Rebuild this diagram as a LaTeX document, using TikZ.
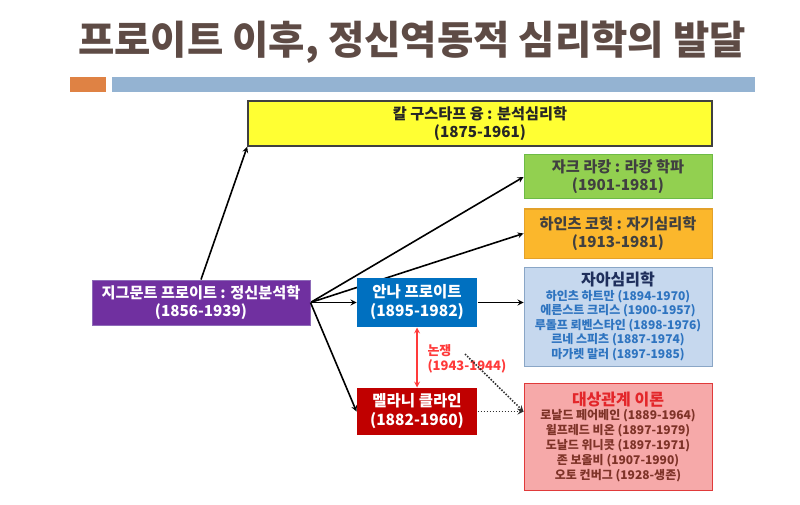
\documentclass[tikz,border=0pt]{standalone}
\usepackage{fontspec}
\setmainfont{Noto Sans CJK KR}
\usetikzlibrary{backgrounds}

\definecolor{titlebrown}{HTML}{5E4B45}
\definecolor{barorange}{HTML}{DF8244}
\definecolor{barblue}{HTML}{94B3D2}
\definecolor{jungfill}{HTML}{FFFF33}
\definecolor{lacanfill}{HTML}{92D050}
\definecolor{lacanline}{HTML}{6DBB45}
\definecolor{kohutfill}{HTML}{FBB72C}
\definecolor{kohutline}{HTML}{E3A12A}
\definecolor{darktext}{HTML}{404040}
\definecolor{freudfill}{HTML}{7030A0}
\definecolor{freudline}{HTML}{8E6BB8}
\definecolor{annafill}{HTML}{0070C0}
\definecolor{melaniefill}{HTML}{C00000}
\definecolor{egofill}{HTML}{C6D8EE}
\definecolor{egoline}{HTML}{8AA6C6}
\definecolor{egohead}{HTML}{1F2F5C}
\definecolor{egotext}{HTML}{2E74C0}
\definecolor{objfill}{HTML}{F6A9A9}
\definecolor{objline}{HTML}{E03A3A}
\definecolor{objhead}{HTML}{E3262A}
\definecolor{objtext}{HTML}{7E3328}
\definecolor{debatered}{HTML}{FF3A3A}
\definecolor{dotgray}{HTML}{303030}

\begin{document}
\begin{tikzpicture}[x=1pt,y=-1pt,>=stealth]
	\useasboundingbox (0,0) rectangle (800,505);
	\node (T) at (412,42) [text=titlebrown] {\fontsize{39.5}{42}\selectfont\bfseries 프로이트 이후, 정신역동적 심리학의 발달};
	\fill [barorange] (70,77) rectangle (106,92);
	\fill [barblue] (112,77) rectangle (755,92);

	\begin{scope}[every node/.style={rectangle,line width=1pt,align=center,inner sep=2pt,font=\fontsize{15.2}{18}\selectfont\bfseries}]
	\node (J) at (480,123.5) [fill=jungfill,draw=darktext,line width=1.6pt,minimum width=464,minimum height=45,text=black!85] {칼 구스타프 융 : 분석심리학\\(1875-1961)};
	\node (L) at (618,177) [fill=lacanfill,draw=lacanline,minimum width=188,minimum height=44,text=darktext] {자크 라캉 : 라캉 학파\\(1901-1981)};
	\node (K) at (618,233.5) [fill=kohutfill,draw=kohutline,minimum width=188,minimum height=49,text=darktext] {하인츠 코헛 : 자기심리학\\(1913-1981)};
	\node (F) at (201,302.5) [fill=freudfill,draw=freudline,minimum width=218,minimum height=45,text=white] {지그문트 프로이트 : 정신분석학\\(1856-1939)};
	\node (A) at (417,302.5) [fill=annafill,minimum width=120,minimum height=49,text=white,font=\fontsize{15.5}{19}\selectfont\bfseries] {안나 프로이트\\(1895-1982)};
	\node (M) at (417,411.5) [fill=melaniefill,minimum width=120,minimum height=47,text=white,font=\fontsize{15.5}{19}\selectfont\bfseries] {멜라니 클라인\\(1882-1960)};
	\node (E) at (618,316.5) [fill=egofill,draw=egoline,minimum width=188,minimum height=99,text=egotext,font=\fontsize{12}{14.6}\selectfont\bfseries] {{\fontsize{16}{17}\selectfont\color{egohead}자아심리학}\\하인츠 하트만 (1894-1970)\\에른스트 크리스 (1900-1957)\\루돌프 뢰벤스타인 (1898-1976)\\르네 스피츠 (1887-1974)\\마가렛 말러 (1897-1985)};
	\node (O) at (618,436.5) [fill=objfill,draw=objline,minimum width=188,minimum height=107,text=objtext,font=\fontsize{12}{14.8}\selectfont\bfseries] {{\fontsize{16}{17}\selectfont\color{objhead}대상관계 이론}\\로날드 페어베인 (1889-1964)\\윌프레드 비온 (1897-1979)\\도날드 위니콧 (1897-1971)\\존 보올비 (1907-1990)\\오토 컨버그 (1928-생존)};
	\end{scope}

	\node (D) at (424,359) [anchor=west,align=left,text=debatered,font=\fontsize{13}{15}\selectfont\bfseries] {논쟁\\(1943-1944)};
	\coordinate (P) at (465,354);
	\coordinate (Q) at (M.east -| O.west);

	\begin{pgfonlayer}{background}
	\draw [->,line width=1.6pt] (F.east) -- (L.west);
	\draw [->,line width=1.6pt] (F.east) -- (K.west);
	\end{pgfonlayer}
	\draw [->,line width=1.6pt] (F.north) -- (J.south west);
	\draw [->,line width=1.6pt] (F.east) -- (A.west);
	\draw [->,line width=1.6pt] (F.east) -- (M.west);
	\draw [->,line width=1.6pt] (A.east) -- (A.east -| E.west);
	\draw [<->,line width=1.6pt,debatered] (A.south) -- (M.north);
	\draw [->,line width=1.6pt,dotgray,dash pattern=on 1.5pt off 1.5pt] (M.east) -- (Q);
	\draw [->,line width=1.6pt,dotgray,dash pattern=on 1.5pt off 1.5pt] (P) -- (Q);
\end{tikzpicture}
\end{document}
